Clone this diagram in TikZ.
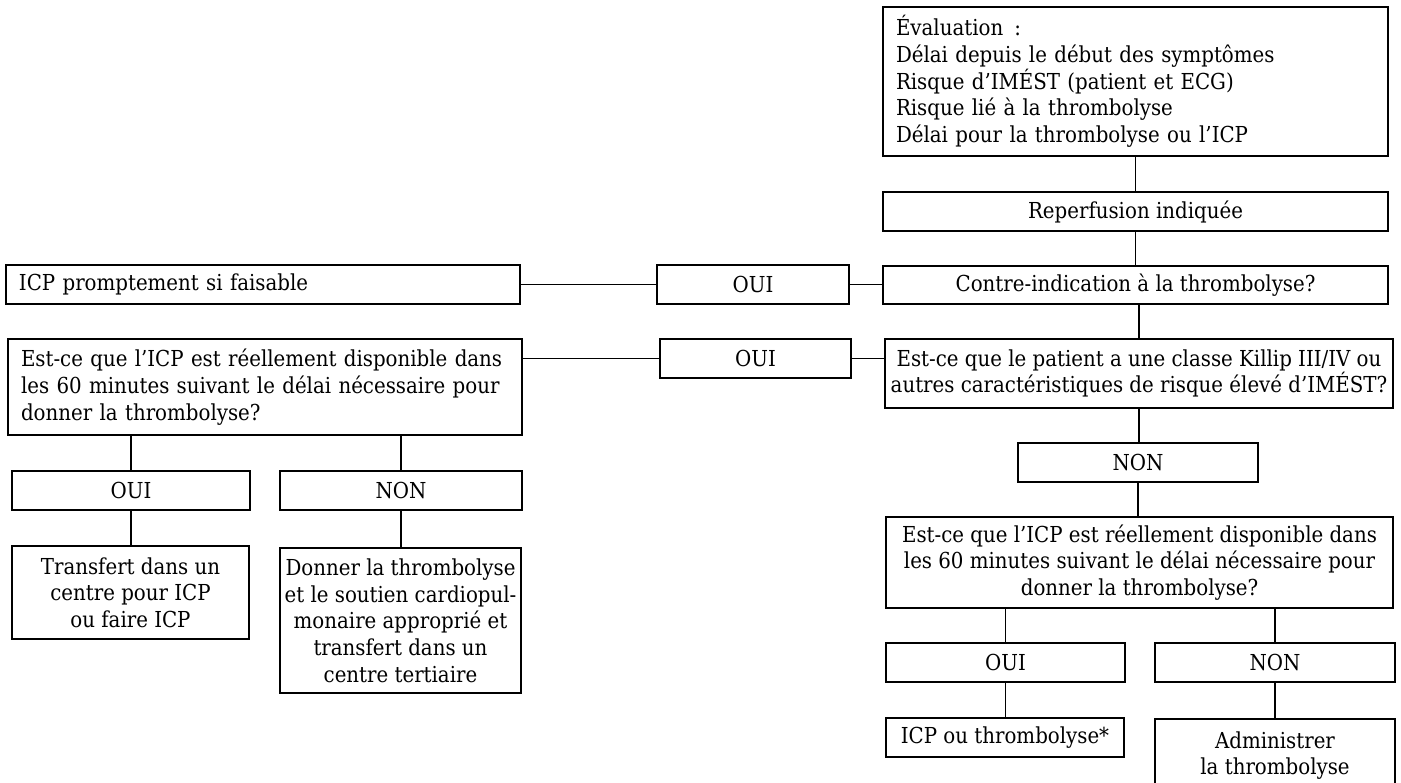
\documentclass[tikz,border=0pt]{standalone}
\usepackage{fontspec}
\setmainfont{DejaVu Serif Condensed}
\tikzset{
  box/.style={draw, line width=1.1pt, inner sep=0pt, font=\fontsize{22}{26.7}\selectfont},
  lbox/.style={box, align=left},
  cbox/.style={box, align=center},
  link/.style={draw, line width=1.1pt},
}
\newcommand\bx[7]{% name, x1, y1, x2, y2, style, text
  \pgfmathsetmacro\bxw{#4-#2}%
  \pgfmathsetmacro\bxh{#5-#3}%
  \pgfmathsetmacro\bxt{#4-#2-26}%
  \node[#6, minimum width=\bxw pt, minimum height=\bxh pt, text width=\bxt pt] (#1) at ({(#2+#4)/2},{(#3+#5)/2}) {#7};}
\newcommand\cb[7]{% centered box without text width
  \pgfmathsetmacro\bxw{#4-#2}%
  \pgfmathsetmacro\bxh{#5-#3}%
  \node[#6, minimum width=\bxw pt, minimum height=\bxh pt] (#1) at ({(#2+#4)/2},{(#3+#5)/2}) {#7};}
\begin{document}
\begin{tikzpicture}[x=1pt, y=-1pt]
\useasboundingbox (0,0) rectangle (1401,783);
% right column
\bx{eval}{883}{7}{1388}{156}{lbox}{\mbox{Évaluation\enspace:}\\\mbox{Délai depuis le début des symptômes}\\\mbox{Risque d’IMÉST (patient et ECG)}\\\mbox{Risque lié à la thrombolyse}\\\mbox{Délai pour la thrombolyse ou l’ICP}}
\cb{rep}{883}{192}{1388}{231}{cbox}{Reperfusion indiquée}
\cb{contra}{883}{266}{1388}{304}{cbox}{Contre-indication à la thrombolyse?}
\cb{q1}{885}{339}{1393}{408}{cbox}{Est-ce que le patient a une classe Killip III/IV ou\\autres caractéristiques de risque élevé d’IMÉST?}
\cb{non1}{1018}{443}{1258}{482}{cbox}{NON}
\cb{q3}{886}{517}{1393}{608}{cbox}{Est-ce que l’ICP est réellement disponible dans\\les 60 minutes suivant le délai nécessaire pour\\donner la thrombolyse?}
\cb{ouiR}{886}{643}{1125}{682}{cbox}{OUI}
\cb{nonR}{1155}{643}{1395}{682}{cbox}{NON}
\cb{icpthr}{886}{718}{1124}{757}{cbox}{ICP ou thrombolyse*}
\cb{admin}{1155}{719}{1395}{792}{cbox}{Administrer\\la thrombolyse}
% middle column
\cb{oui1}{657}{265}{849}{304}{cbox}{OUI}
\cb{oui2}{660}{339}{851}{378}{cbox}{OUI}
% left column
\bx{icpp}{6}{265}{520}{304}{lbox}{\mbox{ICP promptement si faisable}}
\bx{q2l}{8}{339}{522}{435}{lbox}{\mbox{Est-ce que l’ICP est réellement disponible dans}\\\mbox{les 60 minutes suivant le délai nécessaire pour}\\\mbox{donner la thrombolyse?}}
\cb{ouiL}{12}{471}{250}{510}{cbox}{OUI}
\cb{nonL}{280}{471}{522}{510}{cbox}{NON}
\cb{trans}{12}{546}{249}{639}{cbox}{Transfert dans un\\centre pour ICP\\ou faire ICP}
\cb{donner}{280}{548}{521}{693}{cbox}{Donner la thrombolyse\\et le soutien cardiopul-\\monaire approprié et\\transfert dans un\\centre tertiaire}
% connectors
\draw[link] (eval.south) -- (rep.north);
\draw[link] (rep.south) -- (contra.north);
\draw[link] (q1.north) -- (q1.north |- contra.south);
\draw[link] (oui1.east) -- (oui1.east -| contra.west);
\draw[link] (oui1.west) -- (oui1.west -| icpp.east);
\draw[link] (oui2.east) -- (oui2.east -| q1.west);
\draw[link] (oui2.west) -- (oui2.west -| q2l.east);
\draw[link] (q1.south) -- (q1.south |- non1.north);
\draw[link] (non1.south) -- (non1.south |- q3.north);
\draw[link] (ouiR.north) -- (ouiR.north |- q3.south);
\draw[link] (nonR.north) -- (nonR.north |- q3.south);
\draw[link] (ouiR.south) -- (ouiR.south |- icpthr.north);
\draw[link] (nonR.south) -- (nonR.south |- admin.north);
\draw[link] (ouiL.north) -- (ouiL.north |- q2l.south);
\draw[link] (nonL.north) -- (nonL.north |- q2l.south);
\draw[link] (ouiL.south) -- (ouiL.south |- trans.north);
\draw[link] (nonL.south) -- (nonL.south |- donner.north);
\end{tikzpicture}
\end{document}
